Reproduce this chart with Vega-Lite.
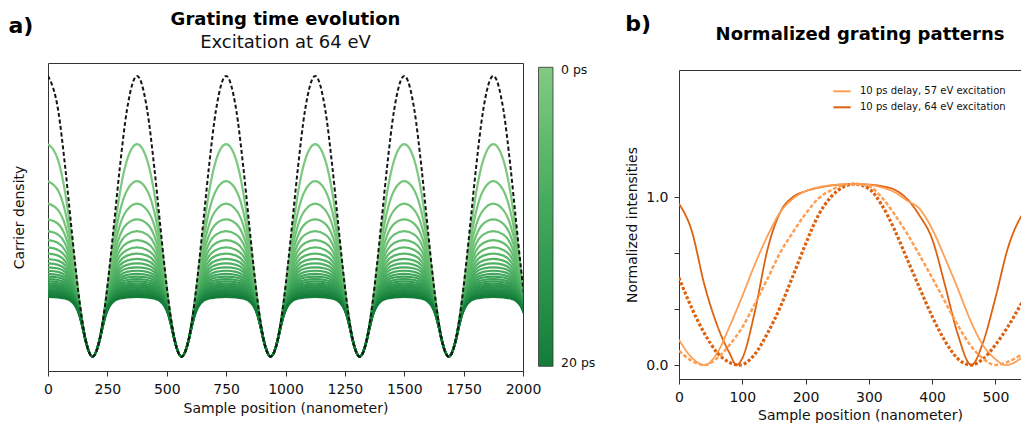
{
"$schema": "https://vega.github.io/schema/vega-lite/v6.json",
"padding": {"left": 8, "top": 10, "right": 0, "bottom": 0},
"config": {
 "font": "DejaVu Sans",
 "view": {"stroke": "#333", "strokeWidth": 1},
 "axis": {"grid": false, "domain": false, "labelFont": "DejaVu Sans", "titleFont": "DejaVu Sans", "labelFontSize": 14, "titleFontSize": 14, "titleFontWeight": "normal", "labelColor": "#111", "titleColor": "#111", "tickColor": "#333", "tickSize": 5, "labelPadding": 6.5, "labelFlush": false, "labelOverlap": false},
 "title": {"font": "DejaVu Sans", "fontSize": 18, "fontWeight": "bold", "color": "#000", "subtitleFont": "DejaVu Sans", "subtitleFontSize": 18, "subtitleColor": "#111", "subtitlePadding": 5, "frame": "group"},
 "legend": {"labelFont": "DejaVu Sans", "labelColor": "#111", "padding": 0}
},
"datasets": {
 "times": [{"id":"a","ps":0.77},{"id":"b","ps":1.54},{"id":"c","ps":2.31},{"id":"d","ps":3.08},{"id":"e","ps":3.85},{"id":"f","ps":4.62},{"id":"g","ps":5.38},{"id":"h","ps":6.15},{"id":"i","ps":6.92},{"id":"j","ps":7.69},{"id":"k","ps":8.46},{"id":"l","ps":9.23},{"id":"m","ps":10},{"id":"n","ps":10.77},{"id":"o","ps":11.54},{"id":"p","ps":12.31},{"id":"q","ps":13.08},{"id":"r","ps":13.85},{"id":"s","ps":14.62},{"id":"t","ps":15.38},{"id":"u","ps":16.15},{"id":"v","ps":16.92},{"id":"w","ps":17.69},{"id":"x","ps":18.46},{"id":"y","ps":19.23},{"id":"z","ps":20}],
 "left": [
{"nm":0,"K":1000,"a":757,"b":625,"c":545,"d":489,"e":447,"f":415,"g":389,"h":367,"i":348,"j":332,"k":318,"l":306,"m":295,"n":285,"o":276,"p":268,"q":260,"r":253,"s":247,"t":241,"u":236,"v":231,"w":226,"x":221,"y":217,"z":213},
{"nm":42.5,"K":879,"a":700,"b":592,"c":522,"d":473,"e":435,"f":405,"g":380,"h":360,"i":342,"j":327,"k":314,"l":302,"m":291,"n":282,"o":273,"p":265,"q":258,"r":251,"s":245,"t":239,"u":234,"v":229,"w":224,"x":220,"y":215,"z":211},
{"nm":72.5,"K":674,"a":583,"b":516,"c":468,"d":431,"e":402,"f":378,"g":358,"h":340,"i":325,"j":312,"k":301,"l":290,"m":281,"n":272,"o":264,"p":257,"q":250,"r":244,"s":239,"t":233,"u":228,"v":224,"w":219,"x":215,"y":211,"z":207},
{"nm":95.5,"K":485,"a":448,"b":415,"c":389,"d":367,"e":348,"f":332,"g":318,"h":306,"i":295,"j":285,"k":276,"l":268,"m":260,"n":254,"o":247,"p":241,"q":236,"r":231,"s":226,"t":221,"u":217,"v":213,"w":209,"x":205,"y":202,"z":199},
{"nm":115.5,"K":322,"a":310,"b":299,"c":288,"d":279,"e":271,"f":263,"g":256,"h":249,"i":243,"j":238,"k":232,"l":227,"m":223,"n":218,"o":214,"p":210,"q":207,"r":203,"s":200,"t":197,"u":194,"v":191,"w":188,"x":185,"y":183,"z":180},
{"nm":131.5,"K":204,"a":201,"b":198,"c":195,"d":192,"e":189,"f":187,"g":184,"h":181,"i":179,"j":177,"k":175,"l":172,"m":170,"n":168,"o":167,"p":165,"q":163,"r":161,"s":160,"t":158,"u":156,"v":155,"w":153,"x":152,"y":150,"z":149},
{"nm":145.5,"K":119,"a":118,"b":117,"c":117,"d":116,"e":116,"f":115,"g":114,"h":114,"i":113,"j":113,"k":112,"l":111,"m":111,"n":110,"o":110,"p":109,"q":109,"r":108,"s":108,"t":107,"u":107,"v":106,"w":106,"x":105,"y":105,"z":104},
{"nm":157.5,"K":62,"a":62,"b":62,"c":62,"d":61,"e":61,"f":61,"g":61,"h":61,"i":61,"j":61,"k":61,"l":61,"m":61,"n":61,"o":60,"p":60,"q":60,"r":60,"s":60,"t":60,"u":60,"v":60,"w":60,"x":60,"y":60,"z":60},
{"nm":187.5,"K":0,"a":0,"b":0,"c":0,"d":0,"e":0,"f":0,"g":0,"h":0,"i":0,"j":0,"k":0,"l":0,"m":0,"n":0,"o":0,"p":0,"q":0,"r":0,"s":0,"t":0,"u":0,"v":0,"w":0,"x":0,"y":0,"z":0},
{"nm":217.5,"K":62,"a":62,"b":62,"c":62,"d":61,"e":61,"f":61,"g":61,"h":61,"i":61,"j":61,"k":61,"l":61,"m":61,"n":61,"o":60,"p":60,"q":60,"r":60,"s":60,"t":60,"u":60,"v":60,"w":60,"x":60,"y":60,"z":60},
{"nm":229.5,"K":119,"a":118,"b":117,"c":117,"d":116,"e":116,"f":115,"g":114,"h":114,"i":113,"j":113,"k":112,"l":111,"m":111,"n":110,"o":110,"p":109,"q":109,"r":108,"s":108,"t":107,"u":107,"v":106,"w":106,"x":105,"y":105,"z":104},
{"nm":243.5,"K":204,"a":201,"b":198,"c":195,"d":192,"e":189,"f":187,"g":184,"h":181,"i":179,"j":177,"k":175,"l":172,"m":170,"n":168,"o":167,"p":165,"q":163,"r":161,"s":160,"t":158,"u":156,"v":155,"w":153,"x":152,"y":150,"z":149},
{"nm":259.5,"K":322,"a":310,"b":299,"c":288,"d":279,"e":271,"f":263,"g":256,"h":249,"i":243,"j":238,"k":232,"l":227,"m":223,"n":218,"o":214,"p":210,"q":207,"r":203,"s":200,"t":197,"u":194,"v":191,"w":188,"x":185,"y":183,"z":180},
{"nm":279.5,"K":485,"a":448,"b":415,"c":389,"d":367,"e":348,"f":332,"g":318,"h":306,"i":295,"j":285,"k":276,"l":268,"m":260,"n":254,"o":247,"p":241,"q":236,"r":231,"s":226,"t":221,"u":217,"v":213,"w":209,"x":205,"y":202,"z":199},
{"nm":302.5,"K":674,"a":583,"b":516,"c":468,"d":431,"e":402,"f":378,"g":358,"h":340,"i":325,"j":312,"k":301,"l":290,"m":281,"n":272,"o":264,"p":257,"q":250,"r":244,"s":239,"t":233,"u":228,"v":224,"w":219,"x":215,"y":211,"z":207},
{"nm":332.5,"K":879,"a":700,"b":592,"c":522,"d":473,"e":435,"f":405,"g":380,"h":360,"i":342,"j":327,"k":314,"l":302,"m":291,"n":282,"o":273,"p":265,"q":258,"r":251,"s":245,"t":239,"u":234,"v":229,"w":224,"x":220,"y":215,"z":211},
{"nm":375,"K":1000,"a":757,"b":625,"c":545,"d":489,"e":447,"f":415,"g":389,"h":367,"i":348,"j":332,"k":318,"l":306,"m":295,"n":285,"o":276,"p":268,"q":260,"r":253,"s":247,"t":241,"u":236,"v":231,"w":226,"x":221,"y":217,"z":213},
{"nm":417.5,"K":879,"a":700,"b":592,"c":522,"d":473,"e":435,"f":405,"g":380,"h":360,"i":342,"j":327,"k":314,"l":302,"m":291,"n":282,"o":273,"p":265,"q":258,"r":251,"s":245,"t":239,"u":234,"v":229,"w":224,"x":220,"y":215,"z":211},
{"nm":447.5,"K":674,"a":583,"b":516,"c":468,"d":431,"e":402,"f":378,"g":358,"h":340,"i":325,"j":312,"k":301,"l":290,"m":281,"n":272,"o":264,"p":257,"q":250,"r":244,"s":239,"t":233,"u":228,"v":224,"w":219,"x":215,"y":211,"z":207},
{"nm":470.5,"K":485,"a":448,"b":415,"c":389,"d":367,"e":348,"f":332,"g":318,"h":306,"i":295,"j":285,"k":276,"l":268,"m":260,"n":254,"o":247,"p":241,"q":236,"r":231,"s":226,"t":221,"u":217,"v":213,"w":209,"x":205,"y":202,"z":199},
{"nm":490.5,"K":322,"a":310,"b":299,"c":288,"d":279,"e":271,"f":263,"g":256,"h":249,"i":243,"j":238,"k":232,"l":227,"m":223,"n":218,"o":214,"p":210,"q":207,"r":203,"s":200,"t":197,"u":194,"v":191,"w":188,"x":185,"y":183,"z":180},
{"nm":506.5,"K":204,"a":201,"b":198,"c":195,"d":192,"e":189,"f":187,"g":184,"h":181,"i":179,"j":177,"k":175,"l":172,"m":170,"n":168,"o":167,"p":165,"q":163,"r":161,"s":160,"t":158,"u":156,"v":155,"w":153,"x":152,"y":150,"z":149},
{"nm":520.5,"K":119,"a":118,"b":117,"c":117,"d":116,"e":116,"f":115,"g":114,"h":114,"i":113,"j":113,"k":112,"l":111,"m":111,"n":110,"o":110,"p":109,"q":109,"r":108,"s":108,"t":107,"u":107,"v":106,"w":106,"x":105,"y":105,"z":104},
{"nm":532.5,"K":62,"a":62,"b":62,"c":62,"d":61,"e":61,"f":61,"g":61,"h":61,"i":61,"j":61,"k":61,"l":61,"m":61,"n":61,"o":60,"p":60,"q":60,"r":60,"s":60,"t":60,"u":60,"v":60,"w":60,"x":60,"y":60,"z":60},
{"nm":562.5,"K":0,"a":0,"b":0,"c":0,"d":0,"e":0,"f":0,"g":0,"h":0,"i":0,"j":0,"k":0,"l":0,"m":0,"n":0,"o":0,"p":0,"q":0,"r":0,"s":0,"t":0,"u":0,"v":0,"w":0,"x":0,"y":0,"z":0},
{"nm":592.5,"K":62,"a":62,"b":62,"c":62,"d":61,"e":61,"f":61,"g":61,"h":61,"i":61,"j":61,"k":61,"l":61,"m":61,"n":61,"o":60,"p":60,"q":60,"r":60,"s":60,"t":60,"u":60,"v":60,"w":60,"x":60,"y":60,"z":60},
{"nm":604.5,"K":119,"a":118,"b":117,"c":117,"d":116,"e":116,"f":115,"g":114,"h":114,"i":113,"j":113,"k":112,"l":111,"m":111,"n":110,"o":110,"p":109,"q":109,"r":108,"s":108,"t":107,"u":107,"v":106,"w":106,"x":105,"y":105,"z":104},
{"nm":618.5,"K":204,"a":201,"b":198,"c":195,"d":192,"e":189,"f":187,"g":184,"h":181,"i":179,"j":177,"k":175,"l":172,"m":170,"n":168,"o":167,"p":165,"q":163,"r":161,"s":160,"t":158,"u":156,"v":155,"w":153,"x":152,"y":150,"z":149},
{"nm":634.5,"K":322,"a":310,"b":299,"c":288,"d":279,"e":271,"f":263,"g":256,"h":249,"i":243,"j":238,"k":232,"l":227,"m":223,"n":218,"o":214,"p":210,"q":207,"r":203,"s":200,"t":197,"u":194,"v":191,"w":188,"x":185,"y":183,"z":180},
{"nm":654.5,"K":485,"a":448,"b":415,"c":389,"d":367,"e":348,"f":332,"g":318,"h":306,"i":295,"j":285,"k":276,"l":268,"m":260,"n":254,"o":247,"p":241,"q":236,"r":231,"s":226,"t":221,"u":217,"v":213,"w":209,"x":205,"y":202,"z":199},
{"nm":677.5,"K":674,"a":583,"b":516,"c":468,"d":431,"e":402,"f":378,"g":358,"h":340,"i":325,"j":312,"k":301,"l":290,"m":281,"n":272,"o":264,"p":257,"q":250,"r":244,"s":239,"t":233,"u":228,"v":224,"w":219,"x":215,"y":211,"z":207},
{"nm":707.5,"K":879,"a":700,"b":592,"c":522,"d":473,"e":435,"f":405,"g":380,"h":360,"i":342,"j":327,"k":314,"l":302,"m":291,"n":282,"o":273,"p":265,"q":258,"r":251,"s":245,"t":239,"u":234,"v":229,"w":224,"x":220,"y":215,"z":211},
{"nm":750,"K":1000,"a":757,"b":625,"c":545,"d":489,"e":447,"f":415,"g":389,"h":367,"i":348,"j":332,"k":318,"l":306,"m":295,"n":285,"o":276,"p":268,"q":260,"r":253,"s":247,"t":241,"u":236,"v":231,"w":226,"x":221,"y":217,"z":213},
{"nm":792.5,"K":879,"a":700,"b":592,"c":522,"d":473,"e":435,"f":405,"g":380,"h":360,"i":342,"j":327,"k":314,"l":302,"m":291,"n":282,"o":273,"p":265,"q":258,"r":251,"s":245,"t":239,"u":234,"v":229,"w":224,"x":220,"y":215,"z":211},
{"nm":822.5,"K":674,"a":583,"b":516,"c":468,"d":431,"e":402,"f":378,"g":358,"h":340,"i":325,"j":312,"k":301,"l":290,"m":281,"n":272,"o":264,"p":257,"q":250,"r":244,"s":239,"t":233,"u":228,"v":224,"w":219,"x":215,"y":211,"z":207},
{"nm":845.5,"K":485,"a":448,"b":415,"c":389,"d":367,"e":348,"f":332,"g":318,"h":306,"i":295,"j":285,"k":276,"l":268,"m":260,"n":254,"o":247,"p":241,"q":236,"r":231,"s":226,"t":221,"u":217,"v":213,"w":209,"x":205,"y":202,"z":199},
{"nm":865.5,"K":322,"a":310,"b":299,"c":288,"d":279,"e":271,"f":263,"g":256,"h":249,"i":243,"j":238,"k":232,"l":227,"m":223,"n":218,"o":214,"p":210,"q":207,"r":203,"s":200,"t":197,"u":194,"v":191,"w":188,"x":185,"y":183,"z":180},
{"nm":881.5,"K":204,"a":201,"b":198,"c":195,"d":192,"e":189,"f":187,"g":184,"h":181,"i":179,"j":177,"k":175,"l":172,"m":170,"n":168,"o":167,"p":165,"q":163,"r":161,"s":160,"t":158,"u":156,"v":155,"w":153,"x":152,"y":150,"z":149},
{"nm":895.5,"K":119,"a":118,"b":117,"c":117,"d":116,"e":116,"f":115,"g":114,"h":114,"i":113,"j":113,"k":112,"l":111,"m":111,"n":110,"o":110,"p":109,"q":109,"r":108,"s":108,"t":107,"u":107,"v":106,"w":106,"x":105,"y":105,"z":104},
{"nm":907.5,"K":62,"a":62,"b":62,"c":62,"d":61,"e":61,"f":61,"g":61,"h":61,"i":61,"j":61,"k":61,"l":61,"m":61,"n":61,"o":60,"p":60,"q":60,"r":60,"s":60,"t":60,"u":60,"v":60,"w":60,"x":60,"y":60,"z":60},
{"nm":937.5,"K":0,"a":0,"b":0,"c":0,"d":0,"e":0,"f":0,"g":0,"h":0,"i":0,"j":0,"k":0,"l":0,"m":0,"n":0,"o":0,"p":0,"q":0,"r":0,"s":0,"t":0,"u":0,"v":0,"w":0,"x":0,"y":0,"z":0},
{"nm":967.5,"K":62,"a":62,"b":62,"c":62,"d":61,"e":61,"f":61,"g":61,"h":61,"i":61,"j":61,"k":61,"l":61,"m":61,"n":61,"o":60,"p":60,"q":60,"r":60,"s":60,"t":60,"u":60,"v":60,"w":60,"x":60,"y":60,"z":60},
{"nm":979.5,"K":119,"a":118,"b":117,"c":117,"d":116,"e":116,"f":115,"g":114,"h":114,"i":113,"j":113,"k":112,"l":111,"m":111,"n":110,"o":110,"p":109,"q":109,"r":108,"s":108,"t":107,"u":107,"v":106,"w":106,"x":105,"y":105,"z":104},
{"nm":993.5,"K":204,"a":201,"b":198,"c":195,"d":192,"e":189,"f":187,"g":184,"h":181,"i":179,"j":177,"k":175,"l":172,"m":170,"n":168,"o":167,"p":165,"q":163,"r":161,"s":160,"t":158,"u":156,"v":155,"w":153,"x":152,"y":150,"z":149},
{"nm":1009.5,"K":322,"a":310,"b":299,"c":288,"d":279,"e":271,"f":263,"g":256,"h":249,"i":243,"j":238,"k":232,"l":227,"m":223,"n":218,"o":214,"p":210,"q":207,"r":203,"s":200,"t":197,"u":194,"v":191,"w":188,"x":185,"y":183,"z":180},
{"nm":1029.5,"K":485,"a":448,"b":415,"c":389,"d":367,"e":348,"f":332,"g":318,"h":306,"i":295,"j":285,"k":276,"l":268,"m":260,"n":254,"o":247,"p":241,"q":236,"r":231,"s":226,"t":221,"u":217,"v":213,"w":209,"x":205,"y":202,"z":199},
{"nm":1052.5,"K":674,"a":583,"b":516,"c":468,"d":431,"e":402,"f":378,"g":358,"h":340,"i":325,"j":312,"k":301,"l":290,"m":281,"n":272,"o":264,"p":257,"q":250,"r":244,"s":239,"t":233,"u":228,"v":224,"w":219,"x":215,"y":211,"z":207},
{"nm":1082.5,"K":879,"a":700,"b":592,"c":522,"d":473,"e":435,"f":405,"g":380,"h":360,"i":342,"j":327,"k":314,"l":302,"m":291,"n":282,"o":273,"p":265,"q":258,"r":251,"s":245,"t":239,"u":234,"v":229,"w":224,"x":220,"y":215,"z":211},
{"nm":1125,"K":1000,"a":757,"b":625,"c":545,"d":489,"e":447,"f":415,"g":389,"h":367,"i":348,"j":332,"k":318,"l":306,"m":295,"n":285,"o":276,"p":268,"q":260,"r":253,"s":247,"t":241,"u":236,"v":231,"w":226,"x":221,"y":217,"z":213},
{"nm":1167.5,"K":879,"a":700,"b":592,"c":522,"d":473,"e":435,"f":405,"g":380,"h":360,"i":342,"j":327,"k":314,"l":302,"m":291,"n":282,"o":273,"p":265,"q":258,"r":251,"s":245,"t":239,"u":234,"v":229,"w":224,"x":220,"y":215,"z":211},
{"nm":1197.5,"K":674,"a":583,"b":516,"c":468,"d":431,"e":402,"f":378,"g":358,"h":340,"i":325,"j":312,"k":301,"l":290,"m":281,"n":272,"o":264,"p":257,"q":250,"r":244,"s":239,"t":233,"u":228,"v":224,"w":219,"x":215,"y":211,"z":207},
{"nm":1220.5,"K":485,"a":448,"b":415,"c":389,"d":367,"e":348,"f":332,"g":318,"h":306,"i":295,"j":285,"k":276,"l":268,"m":260,"n":254,"o":247,"p":241,"q":236,"r":231,"s":226,"t":221,"u":217,"v":213,"w":209,"x":205,"y":202,"z":199},
{"nm":1240.5,"K":322,"a":310,"b":299,"c":288,"d":279,"e":271,"f":263,"g":256,"h":249,"i":243,"j":238,"k":232,"l":227,"m":223,"n":218,"o":214,"p":210,"q":207,"r":203,"s":200,"t":197,"u":194,"v":191,"w":188,"x":185,"y":183,"z":180},
{"nm":1256.5,"K":204,"a":201,"b":198,"c":195,"d":192,"e":189,"f":187,"g":184,"h":181,"i":179,"j":177,"k":175,"l":172,"m":170,"n":168,"o":167,"p":165,"q":163,"r":161,"s":160,"t":158,"u":156,"v":155,"w":153,"x":152,"y":150,"z":149},
{"nm":1270.5,"K":119,"a":118,"b":117,"c":117,"d":116,"e":116,"f":115,"g":114,"h":114,"i":113,"j":113,"k":112,"l":111,"m":111,"n":110,"o":110,"p":109,"q":109,"r":108,"s":108,"t":107,"u":107,"v":106,"w":106,"x":105,"y":105,"z":104},
{"nm":1282.5,"K":62,"a":62,"b":62,"c":62,"d":61,"e":61,"f":61,"g":61,"h":61,"i":61,"j":61,"k":61,"l":61,"m":61,"n":61,"o":60,"p":60,"q":60,"r":60,"s":60,"t":60,"u":60,"v":60,"w":60,"x":60,"y":60,"z":60},
{"nm":1312.5,"K":0,"a":0,"b":0,"c":0,"d":0,"e":0,"f":0,"g":0,"h":0,"i":0,"j":0,"k":0,"l":0,"m":0,"n":0,"o":0,"p":0,"q":0,"r":0,"s":0,"t":0,"u":0,"v":0,"w":0,"x":0,"y":0,"z":0},
{"nm":1342.5,"K":62,"a":62,"b":62,"c":62,"d":61,"e":61,"f":61,"g":61,"h":61,"i":61,"j":61,"k":61,"l":61,"m":61,"n":61,"o":60,"p":60,"q":60,"r":60,"s":60,"t":60,"u":60,"v":60,"w":60,"x":60,"y":60,"z":60},
{"nm":1354.5,"K":119,"a":118,"b":117,"c":117,"d":116,"e":116,"f":115,"g":114,"h":114,"i":113,"j":113,"k":112,"l":111,"m":111,"n":110,"o":110,"p":109,"q":109,"r":108,"s":108,"t":107,"u":107,"v":106,"w":106,"x":105,"y":105,"z":104},
{"nm":1368.5,"K":204,"a":201,"b":198,"c":195,"d":192,"e":189,"f":187,"g":184,"h":181,"i":179,"j":177,"k":175,"l":172,"m":170,"n":168,"o":167,"p":165,"q":163,"r":161,"s":160,"t":158,"u":156,"v":155,"w":153,"x":152,"y":150,"z":149},
{"nm":1384.5,"K":322,"a":310,"b":299,"c":288,"d":279,"e":271,"f":263,"g":256,"h":249,"i":243,"j":238,"k":232,"l":227,"m":223,"n":218,"o":214,"p":210,"q":207,"r":203,"s":200,"t":197,"u":194,"v":191,"w":188,"x":185,"y":183,"z":180},
{"nm":1404.5,"K":485,"a":448,"b":415,"c":389,"d":367,"e":348,"f":332,"g":318,"h":306,"i":295,"j":285,"k":276,"l":268,"m":260,"n":254,"o":247,"p":241,"q":236,"r":231,"s":226,"t":221,"u":217,"v":213,"w":209,"x":205,"y":202,"z":199},
{"nm":1427.5,"K":674,"a":583,"b":516,"c":468,"d":431,"e":402,"f":378,"g":358,"h":340,"i":325,"j":312,"k":301,"l":290,"m":281,"n":272,"o":264,"p":257,"q":250,"r":244,"s":239,"t":233,"u":228,"v":224,"w":219,"x":215,"y":211,"z":207},
{"nm":1457.5,"K":879,"a":700,"b":592,"c":522,"d":473,"e":435,"f":405,"g":380,"h":360,"i":342,"j":327,"k":314,"l":302,"m":291,"n":282,"o":273,"p":265,"q":258,"r":251,"s":245,"t":239,"u":234,"v":229,"w":224,"x":220,"y":215,"z":211},
{"nm":1500,"K":1000,"a":757,"b":625,"c":545,"d":489,"e":447,"f":415,"g":389,"h":367,"i":348,"j":332,"k":318,"l":306,"m":295,"n":285,"o":276,"p":268,"q":260,"r":253,"s":247,"t":241,"u":236,"v":231,"w":226,"x":221,"y":217,"z":213},
{"nm":1542.5,"K":879,"a":700,"b":592,"c":522,"d":473,"e":435,"f":405,"g":380,"h":360,"i":342,"j":327,"k":314,"l":302,"m":291,"n":282,"o":273,"p":265,"q":258,"r":251,"s":245,"t":239,"u":234,"v":229,"w":224,"x":220,"y":215,"z":211},
{"nm":1572.5,"K":674,"a":583,"b":516,"c":468,"d":431,"e":402,"f":378,"g":358,"h":340,"i":325,"j":312,"k":301,"l":290,"m":281,"n":272,"o":264,"p":257,"q":250,"r":244,"s":239,"t":233,"u":228,"v":224,"w":219,"x":215,"y":211,"z":207},
{"nm":1595.5,"K":485,"a":448,"b":415,"c":389,"d":367,"e":348,"f":332,"g":318,"h":306,"i":295,"j":285,"k":276,"l":268,"m":260,"n":254,"o":247,"p":241,"q":236,"r":231,"s":226,"t":221,"u":217,"v":213,"w":209,"x":205,"y":202,"z":199},
{"nm":1615.5,"K":322,"a":310,"b":299,"c":288,"d":279,"e":271,"f":263,"g":256,"h":249,"i":243,"j":238,"k":232,"l":227,"m":223,"n":218,"o":214,"p":210,"q":207,"r":203,"s":200,"t":197,"u":194,"v":191,"w":188,"x":185,"y":183,"z":180},
{"nm":1631.5,"K":204,"a":201,"b":198,"c":195,"d":192,"e":189,"f":187,"g":184,"h":181,"i":179,"j":177,"k":175,"l":172,"m":170,"n":168,"o":167,"p":165,"q":163,"r":161,"s":160,"t":158,"u":156,"v":155,"w":153,"x":152,"y":150,"z":149},
{"nm":1645.5,"K":119,"a":118,"b":117,"c":117,"d":116,"e":116,"f":115,"g":114,"h":114,"i":113,"j":113,"k":112,"l":111,"m":111,"n":110,"o":110,"p":109,"q":109,"r":108,"s":108,"t":107,"u":107,"v":106,"w":106,"x":105,"y":105,"z":104},
{"nm":1657.5,"K":62,"a":62,"b":62,"c":62,"d":61,"e":61,"f":61,"g":61,"h":61,"i":61,"j":61,"k":61,"l":61,"m":61,"n":61,"o":60,"p":60,"q":60,"r":60,"s":60,"t":60,"u":60,"v":60,"w":60,"x":60,"y":60,"z":60},
{"nm":1687.5,"K":0,"a":0,"b":0,"c":0,"d":0,"e":0,"f":0,"g":0,"h":0,"i":0,"j":0,"k":0,"l":0,"m":0,"n":0,"o":0,"p":0,"q":0,"r":0,"s":0,"t":0,"u":0,"v":0,"w":0,"x":0,"y":0,"z":0},
{"nm":1717.5,"K":62,"a":62,"b":62,"c":62,"d":61,"e":61,"f":61,"g":61,"h":61,"i":61,"j":61,"k":61,"l":61,"m":61,"n":61,"o":60,"p":60,"q":60,"r":60,"s":60,"t":60,"u":60,"v":60,"w":60,"x":60,"y":60,"z":60},
{"nm":1729.5,"K":119,"a":118,"b":117,"c":117,"d":116,"e":116,"f":115,"g":114,"h":114,"i":113,"j":113,"k":112,"l":111,"m":111,"n":110,"o":110,"p":109,"q":109,"r":108,"s":108,"t":107,"u":107,"v":106,"w":106,"x":105,"y":105,"z":104},
{"nm":1743.5,"K":204,"a":201,"b":198,"c":195,"d":192,"e":189,"f":187,"g":184,"h":181,"i":179,"j":177,"k":175,"l":172,"m":170,"n":168,"o":167,"p":165,"q":163,"r":161,"s":160,"t":158,"u":156,"v":155,"w":153,"x":152,"y":150,"z":149},
{"nm":1759.5,"K":322,"a":310,"b":299,"c":288,"d":279,"e":271,"f":263,"g":256,"h":249,"i":243,"j":238,"k":232,"l":227,"m":223,"n":218,"o":214,"p":210,"q":207,"r":203,"s":200,"t":197,"u":194,"v":191,"w":188,"x":185,"y":183,"z":180},
{"nm":1779.5,"K":485,"a":448,"b":415,"c":389,"d":367,"e":348,"f":332,"g":318,"h":306,"i":295,"j":285,"k":276,"l":268,"m":260,"n":254,"o":247,"p":241,"q":236,"r":231,"s":226,"t":221,"u":217,"v":213,"w":209,"x":205,"y":202,"z":199},
{"nm":1802.5,"K":674,"a":583,"b":516,"c":468,"d":431,"e":402,"f":378,"g":358,"h":340,"i":325,"j":312,"k":301,"l":290,"m":281,"n":272,"o":264,"p":257,"q":250,"r":244,"s":239,"t":233,"u":228,"v":224,"w":219,"x":215,"y":211,"z":207},
{"nm":1832.5,"K":879,"a":700,"b":592,"c":522,"d":473,"e":435,"f":405,"g":380,"h":360,"i":342,"j":327,"k":314,"l":302,"m":291,"n":282,"o":273,"p":265,"q":258,"r":251,"s":245,"t":239,"u":234,"v":229,"w":224,"x":220,"y":215,"z":211},
{"nm":1875,"K":1000,"a":757,"b":625,"c":545,"d":489,"e":447,"f":415,"g":389,"h":367,"i":348,"j":332,"k":318,"l":306,"m":295,"n":285,"o":276,"p":268,"q":260,"r":253,"s":247,"t":241,"u":236,"v":231,"w":226,"x":221,"y":217,"z":213},
{"nm":1917.5,"K":879,"a":700,"b":592,"c":522,"d":473,"e":435,"f":405,"g":380,"h":360,"i":342,"j":327,"k":314,"l":302,"m":291,"n":282,"o":273,"p":265,"q":258,"r":251,"s":245,"t":239,"u":234,"v":229,"w":224,"x":220,"y":215,"z":211},
{"nm":1947.5,"K":674,"a":583,"b":516,"c":468,"d":431,"e":402,"f":378,"g":358,"h":340,"i":325,"j":312,"k":301,"l":290,"m":281,"n":272,"o":264,"p":257,"q":250,"r":244,"s":239,"t":233,"u":228,"v":224,"w":219,"x":215,"y":211,"z":207},
{"nm":1970.5,"K":485,"a":448,"b":415,"c":389,"d":367,"e":348,"f":332,"g":318,"h":306,"i":295,"j":285,"k":276,"l":268,"m":260,"n":254,"o":247,"p":241,"q":236,"r":231,"s":226,"t":221,"u":217,"v":213,"w":209,"x":205,"y":202,"z":199},
{"nm":1990.5,"K":322,"a":310,"b":299,"c":288,"d":279,"e":271,"f":263,"g":256,"h":249,"i":243,"j":238,"k":232,"l":227,"m":223,"n":218,"o":214,"p":210,"q":207,"r":203,"s":200,"t":197,"u":194,"v":191,"w":188,"x":185,"y":183,"z":180},
{"nm":2006.5,"K":204,"a":201,"b":198,"c":195,"d":192,"e":189,"f":187,"g":184,"h":181,"i":179,"j":177,"k":175,"l":172,"m":170,"n":168,"o":167,"p":165,"q":163,"r":161,"s":160,"t":158,"u":156,"v":155,"w":153,"x":152,"y":150,"z":149}
 ],
 "right": [
{"e":"64","k":"solid","nm":0,"y":0.96},{"e":"64","k":"solid","nm":20,"y":0.8},{"e":"64","k":"solid","nm":40,"y":0.48},{"e":"64","k":"solid","nm":60,"y":0.24},{"e":"64","k":"solid","nm":80,"y":0.07},{"e":"64","k":"solid","nm":91,"y":0},{"e":"64","k":"solid","nm":100,"y":0.04},{"e":"64","k":"solid","nm":120,"y":0.32},{"e":"64","k":"solid","nm":140,"y":0.69},{"e":"64","k":"solid","nm":160,"y":0.91},{"e":"64","k":"solid","nm":180,"y":1.0},{"e":"64","k":"solid","nm":200,"y":1.035},{"e":"64","k":"solid","nm":220,"y":1.055},{"e":"64","k":"solid","nm":240,"y":1.068},{"e":"64","k":"solid","nm":260,"y":1.075},{"e":"64","k":"solid","nm":280,"y":1.077},{"e":"64","k":"solid","nm":300,"y":1.074},{"e":"64","k":"solid","nm":320,"y":1.065},{"e":"64","k":"solid","nm":340,"y":1.045},{"e":"64","k":"solid","nm":360,"y":0.99},{"e":"64","k":"solid","nm":380,"y":0.89},{"e":"64","k":"solid","nm":400,"y":0.75},{"e":"64","k":"solid","nm":420,"y":0.48},{"e":"64","k":"solid","nm":440,"y":0.19},{"e":"64","k":"solid","nm":462,"y":0},{"e":"64","k":"solid","nm":480,"y":0.13},{"e":"64","k":"solid","nm":500,"y":0.4},{"e":"64","k":"solid","nm":520,"y":0.7},{"e":"64","k":"solid","nm":540,"y":0.88},{"e":"64","k":"solid","nm":560,"y":0.96},{"e":"64","k":"solid","nm":575,"y":0.995},
{"e":"57","k":"solid","nm":0,"y":0.15},{"e":"57","k":"solid","nm":20,"y":0.045},{"e":"57","k":"solid","nm":41,"y":0},{"e":"57","k":"solid","nm":60,"y":0.07},{"e":"57","k":"solid","nm":80,"y":0.23},{"e":"57","k":"solid","nm":100,"y":0.41},{"e":"57","k":"solid","nm":120,"y":0.6},{"e":"57","k":"solid","nm":140,"y":0.77},{"e":"57","k":"solid","nm":160,"y":0.91},{"e":"57","k":"solid","nm":180,"y":0.99},{"e":"57","k":"solid","nm":200,"y":1.035},{"e":"57","k":"solid","nm":220,"y":1.058},{"e":"57","k":"solid","nm":240,"y":1.07},{"e":"57","k":"solid","nm":260,"y":1.076},{"e":"57","k":"solid","nm":280,"y":1.077},{"e":"57","k":"solid","nm":300,"y":1.072},{"e":"57","k":"solid","nm":320,"y":1.058},{"e":"57","k":"solid","nm":340,"y":1.03},{"e":"57","k":"solid","nm":360,"y":0.98},{"e":"57","k":"solid","nm":380,"y":0.93},{"e":"57","k":"solid","nm":400,"y":0.81},{"e":"57","k":"solid","nm":420,"y":0.64},{"e":"57","k":"solid","nm":440,"y":0.46},{"e":"57","k":"solid","nm":460,"y":0.27},{"e":"57","k":"solid","nm":480,"y":0.12},{"e":"57","k":"solid","nm":500,"y":0.035},{"e":"57","k":"solid","nm":516,"y":0},{"e":"57","k":"solid","nm":540,"y":0.04},{"e":"57","k":"solid","nm":560,"y":0.12},{"e":"57","k":"solid","nm":575,"y":0.2},
{"e":"64","k":"d64","nm":0,"y":0.52},{"e":"64","k":"d64","nm":20,"y":0.34},{"e":"64","k":"d64","nm":40,"y":0.19},{"e":"64","k":"d64","nm":60,"y":0.075},{"e":"64","k":"d64","nm":80,"y":0.015},{"e":"64","k":"d64","nm":96,"y":0},{"e":"64","k":"d64","nm":120,"y":0.065},{"e":"64","k":"d64","nm":140,"y":0.19},{"e":"64","k":"d64","nm":160,"y":0.345},{"e":"64","k":"d64","nm":180,"y":0.53},{"e":"64","k":"d64","nm":200,"y":0.72},{"e":"64","k":"d64","nm":220,"y":0.89},{"e":"64","k":"d64","nm":240,"y":1.0},{"e":"64","k":"d64","nm":260,"y":1.06},{"e":"64","k":"d64","nm":277,"y":1.077},{"e":"64","k":"d64","nm":300,"y":1.05},{"e":"64","k":"d64","nm":320,"y":0.955},{"e":"64","k":"d64","nm":340,"y":0.81},{"e":"64","k":"d64","nm":360,"y":0.635},{"e":"64","k":"d64","nm":380,"y":0.46},{"e":"64","k":"d64","nm":400,"y":0.29},{"e":"64","k":"d64","nm":420,"y":0.145},{"e":"64","k":"d64","nm":440,"y":0.04},{"e":"64","k":"d64","nm":462,"y":0},{"e":"64","k":"d64","nm":480,"y":0.035},{"e":"64","k":"d64","nm":500,"y":0.12},{"e":"64","k":"d64","nm":520,"y":0.23},{"e":"64","k":"d64","nm":540,"y":0.36},{"e":"64","k":"d64","nm":560,"y":0.5},{"e":"64","k":"d64","nm":575,"y":0.6},
{"e":"57","k":"d57","nm":0,"y":0.085},{"e":"57","k":"d57","nm":20,"y":0.025},{"e":"57","k":"d57","nm":40,"y":0},{"e":"57","k":"d57","nm":60,"y":0.04},{"e":"57","k":"d57","nm":80,"y":0.12},{"e":"57","k":"d57","nm":100,"y":0.225},{"e":"57","k":"d57","nm":120,"y":0.365},{"e":"57","k":"d57","nm":140,"y":0.515},{"e":"57","k":"d57","nm":160,"y":0.67},{"e":"57","k":"d57","nm":180,"y":0.79},{"e":"57","k":"d57","nm":200,"y":0.9},{"e":"57","k":"d57","nm":220,"y":0.99},{"e":"57","k":"d57","nm":240,"y":1.04},{"e":"57","k":"d57","nm":260,"y":1.07},{"e":"57","k":"d57","nm":278,"y":1.077},{"e":"57","k":"d57","nm":300,"y":1.065},{"e":"57","k":"d57","nm":320,"y":1.0},{"e":"57","k":"d57","nm":340,"y":0.9},{"e":"57","k":"d57","nm":360,"y":0.785},{"e":"57","k":"d57","nm":380,"y":0.655},{"e":"57","k":"d57","nm":400,"y":0.52},{"e":"57","k":"d57","nm":420,"y":0.38},{"e":"57","k":"d57","nm":440,"y":0.24},{"e":"57","k":"d57","nm":460,"y":0.12},{"e":"57","k":"d57","nm":480,"y":0.04},{"e":"57","k":"d57","nm":500,"y":0},{"e":"57","k":"d57","nm":520,"y":0.02},{"e":"57","k":"d57","nm":540,"y":0.06},{"e":"57","k":"d57","nm":560,"y":0.12},{"e":"57","k":"d57","nm":575,"y":0.17}
 ]
},
"hconcat": [
 {
  "title": {"text": "a)", "anchor": "start", "frame": "bounds", "fontSize": 22, "offset": 0, "dx": -3, "dy": 27},
  "resolve": {"scale": {"color": "independent"}, "legend": {"color": "independent"}},
  "vconcat": [
   {
    "width": 475, "height": 308,
    "title": {"text": "Grating time evolution", "subtitle": "Excitation at 64 eV", "anchor": "middle", "offset": 11},
    "data": {"name": "left"},
    "encoding": {
     "x": {"field": "nm", "type": "quantitative", "scale": {"domain": [0, 2000], "nice": false, "zero": false}, "axis": {"values": [0,250,500,750,1000,1250,1500,1750,2000], "format": "d", "title": "Sample position (nanometer)", "titlePadding": 5}}
    },
    "layer": [
     {
      "transform": [
       {"fold": ["a","b","c","d","e","f","g","h","i","j","k","l","m","n","o","p","q","r","s","t","u","v","w","x","y","z"], "as": ["id", "val"]},
       {"lookup": "id", "from": {"data": {"name": "times"}, "key": "id", "fields": ["ps"]}}
      ],
      "mark": {"type": "line", "strokeWidth": 2.2, "clip": true, "interpolate": "monotone"},
      "encoding": {
       "y": {"field": "val", "type": "quantitative", "scale": {"domain": [-51, 1046], "nice": false, "zero": false}, "axis": {"title": "Carrier density", "labels": false, "ticks": false, "titlePadding": 22}},
       "color": {"field": "ps", "type": "quantitative", "scale": {"domain": [20, 0], "scheme": {"name": "greens", "extent": [0.875, 0.375]}},
        "legend": {"orient": "none", "legendX": 490.5, "legendY": 4.3, "direction": "vertical", "title": null, "gradientLength": 299, "gradientThickness": 14.5, "gradientStrokeColor": "#333", "gradientStrokeWidth": 0.8, "values": [0.18, 19.75], "labelExpr": "datum.value < 10 ? '0 ps' : '20 ps'", "labelFontSize": 12.5, "labelOffset": 8}}
      }
     },
     {
      "mark": {"type": "line", "strokeWidth": 2, "strokeDash": [4, 2.5], "color": "#151515", "clip": true, "interpolate": "monotone"},
      "encoding": {
       "y": {"field": "K", "type": "quantitative", "scale": {"domain": [-51, 1046], "nice": false, "zero": false}, "axis": {"title": "Carrier density", "labels": false, "ticks": false, "titlePadding": 22}}
      }
     }
    ]
   }
  ]
 },
 {
  "title": {"text": "b)", "anchor": "start", "frame": "bounds", "fontSize": 22, "offset": 0, "dx": 0, "dy": 10},
  "align": "none",
  "spacing": 2,
  "resolve": {"scale": {"color": "independent", "strokeDash": "independent", "strokeWidth": "independent"}, "legend": {"color": "independent"}},
  "vconcat": [
   {
    "width": 362, "height": 1,
    "view": {"stroke": null},
    "title": {"text": "Normalized grating patterns", "anchor": "middle", "offset": 17},
    "data": {"values": [{"nm": 0}]},
    "mark": {"type": "point", "opacity": 0},
    "encoding": {"x": {"field": "nm", "type": "quantitative", "axis": null}}
   },
   {
    "width": 362, "height": 309,
    "data": {"name": "right"},
    "mark": {"type": "line", "clip": true, "interpolate": "monotone"},
    "encoding": {
     "x": {"field": "nm", "type": "quantitative", "scale": {"domain": [0, 572], "nice": false, "zero": false}, "axis": {"values": [0,100,200,300,400,500], "title": "Sample position (nanometer)", "titlePadding": 4}},
     "y": {"field": "y", "type": "quantitative", "scale": {"domain": [-0.083, 1.756], "nice": false, "zero": false}, "axis": {"values": [0, 0.3333, 0.6667, 1], "labelExpr": "datum.value == 0 ? '0.0' : datum.value == 1 ? '1.0' : ''", "title": "Normalized intensities", "labelPadding": 6, "titlePadding": 6}},
     "color": {"field": "e", "type": "nominal", "scale": {"domain": ["57", "64"], "range": ["#fd9f55", "#dc6210"]},
      "legend": {"orient": "none", "legendX": 153, "legendY": 11.3, "title": null, "symbolType": "stroke", "symbolSize": 300, "symbolStrokeWidth": 2, "labelFontSize": 10, "labelOffset": 8, "rowPadding": 1, "labelExpr": "'10 ps delay, ' + datum.label + ' eV excitation'"}},
     "strokeDash": {"field": "k", "type": "nominal", "scale": {"domain": ["solid", "d57", "d64"], "range": [[1, 0], [4, 2], [3, 2]]}, "legend": null},
     "strokeWidth": {"field": "k", "type": "ordinal", "scale": {"domain": ["solid", "d57", "d64"], "range": [1.8, 3.2, 2.6]}, "legend": null}
    }
   }
  ]
 }
],
"spacing": 29,
"resolve": {"scale": {"color": "independent", "strokeDash": "independent", "strokeWidth": "independent"}, "legend": {"color": "independent"}}
}
